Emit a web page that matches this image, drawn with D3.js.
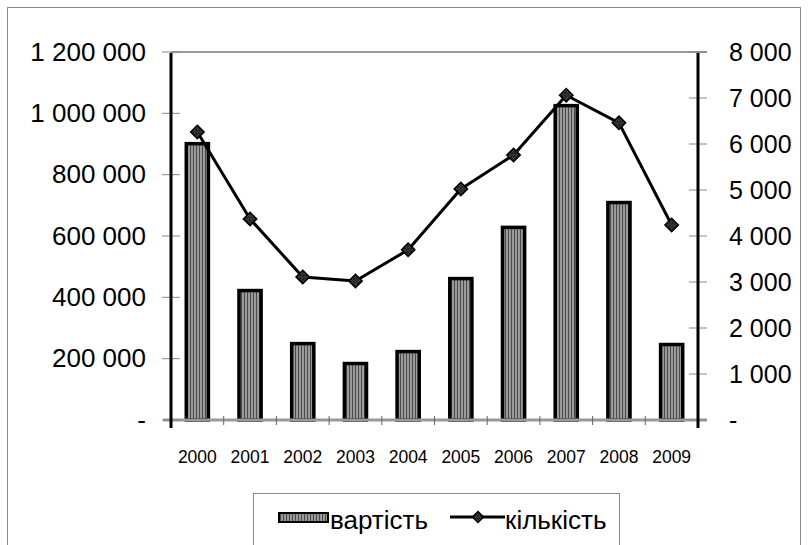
<!DOCTYPE html>
<html>
<head>
<meta charset="utf-8">
<script src="https://cdn.jsdelivr.net/npm/d3@7/dist/d3.min.js"></script>
<style>
  body { margin: 0; background: #fff; }
  svg { display: block; font-family: "Liberation Sans", Arial, sans-serif; }
</style>
</head>
<body>
<svg id="chart" width="809" height="545"></svg>
<script>
const years = ["2000","2001","2002","2003","2004","2005","2006","2007","2008","2009"];
const valueSeries = [906000, 427000, 254000, 189000, 228000, 466000, 633000, 1030000, 714000, 251000];
const countSeries = [6260, 4370, 3110, 3020, 3700, 5020, 5760, 7060, 6460, 4240];
const leftTicks = [0, 200000, 400000, 600000, 800000, 1000000, 1200000];
const rightTicks = [0, 1000, 2000, 3000, 4000, 5000, 6000, 7000, 8000];
const legendLabels = ["вартість", "кількість"];

const svg = d3.select("#chart");
const L = 171, R = 698, T = 52, B = 420;

// pattern
const defs = svg.append("defs");
const pat = defs.append("pattern").attr("id", "stripes").attr("patternUnits", "userSpaceOnUse")
  .attr("width", 3).attr("height", 3);
pat.append("rect").attr("width", 3).attr("height", 3).attr("fill", "#9a9a9a");
pat.append("rect").attr("x", 1).attr("width", 1).attr("height", 3).attr("fill", "#4a4a4a");
const pat2 = defs.append("pattern").attr("id", "dots").attr("patternUnits", "userSpaceOnUse")
  .attr("width", 2).attr("height", 2);
pat2.append("rect").attr("width", 2).attr("height", 2).attr("fill", "#1a1a1a");
pat2.append("rect").attr("width", 1).attr("height", 1).attr("fill", "#666");

// outer frame
svg.append("rect").attr("x", 7.5).attr("y", 7.5).attr("width", 793).attr("height", 560)
  .attr("fill", "none").attr("stroke", "#888").attr("stroke-width", 1);

const x = d3.scaleBand().domain(years).range([L, R]).padding(0);
const yL = d3.scaleLinear().domain([0, 1200000]).range([B, T]);
const yR = d3.scaleLinear().domain([0, 8000]).range([B, T]);

const fmt = d => d === 0 ? "-" : d3.format(",")(d).replace(/,/g, " ");

// top gridline
svg.append("line").attr("x1", L).attr("x2", R + 9).attr("y1", yL(1200000)).attr("y2", yL(1200000))
  .attr("stroke", "#999").attr("stroke-width", 2);

// bars
const bw = x.bandwidth() * 0.42;
svg.append("g").selectAll("rect").data(years).join("rect")
  .attr("x", d => x(d) + x.bandwidth() / 2 - bw / 2)
  .attr("y", (d, i) => yL(valueSeries[i]) + 1.5)
  .attr("width", bw)
  .attr("height", (d, i) => B - yL(valueSeries[i]) - 1.5)
  .attr("fill", "url(#stripes)")
  .attr("stroke", "#000").attr("stroke-width", 3.5);

// bottom baseline
svg.append("line").attr("x1", L - 8).attr("x2", R + 9).attr("y1", B).attr("y2", B)
  .attr("stroke", "#999").attr("stroke-width", 3);

// x ticks
svg.append("g").selectAll("line").data(years.slice(1)).join("line")
  .attr("x1", d => x(d)).attr("x2", d => x(d)).attr("y1", B - 4).attr("y2", B + 5)
  .attr("stroke", "#666").attr("stroke-width", 1);

// left axis
const gL = svg.append("g").attr("transform", `translate(${L},0)`)
  .call(d3.axisLeft(yL).tickValues(leftTicks).tickFormat(fmt).tickSize(0));
gL.select(".domain").remove();
gL.selectAll("text").attr("x", -25).attr("font-size", 26).attr("fill", "#000")
  .attr("font-family", "Liberation Sans, Arial, sans-serif");
svg.append("g").selectAll("line").data(leftTicks).join("line")
  .attr("x1", L - 9).attr("x2", L + 9).attr("y1", d => yL(d)).attr("y2", d => yL(d))
  .attr("stroke", "#888").attr("stroke-width", 1);
svg.append("line").attr("x1", L).attr("x2", L).attr("y1", T + 1).attr("y2", B + 8)
  .attr("stroke", "#000").attr("stroke-width", 3);

// right axis
const gR = svg.append("g").attr("transform", `translate(${R},0)`)
  .call(d3.axisRight(yR).tickValues(rightTicks).tickFormat(fmt).tickSize(0));
gR.select(".domain").remove();
gR.selectAll("text").attr("x", 31).attr("font-size", 25).attr("fill", "#000")
  .attr("font-family", "Liberation Sans, Arial, sans-serif");
svg.append("g").selectAll("line").data(rightTicks).join("line")
  .attr("x1", R - 9).attr("x2", R + 9).attr("y1", d => yR(d)).attr("y2", d => yR(d))
  .attr("stroke", "#888").attr("stroke-width", 1);
svg.append("line").attr("x1", R).attr("x2", R).attr("y1", T + 1).attr("y2", B + 8)
  .attr("stroke", "#000").attr("stroke-width", 3);

// x labels
svg.append("g").selectAll("text").data(years).join("text")
  .attr("x", d => x(d) + x.bandwidth() / 2).attr("y", 463)
  .attr("text-anchor", "middle").attr("font-size", 17.5).attr("fill", "#000")
  .text(d => d);

// line
const line = d3.line().x((d, i) => x(years[i]) + x.bandwidth() / 2).y(d => yR(d));
svg.append("path").datum(countSeries).attr("d", line)
  .attr("fill", "none").attr("stroke", "#000").attr("stroke-width", 3).attr("stroke-linejoin", "round");

const marker = d3.symbol(d3.symbolSquare, 90);
svg.append("g").selectAll("path").data(countSeries).join("path")
  .attr("d", marker)
  .attr("transform", (d, i) => `translate(${x(years[i]) + x.bandwidth() / 2},${yR(d)}) rotate(45)`)
  .attr("fill", "url(#dots)").attr("stroke", "#000").attr("stroke-width", 1.5);

// legend
svg.append("rect").attr("x", 253.5).attr("y", 493.5).attr("width", 366).attr("height", 80)
  .attr("fill", "#fff").attr("stroke", "#888").attr("stroke-width", 1);
svg.append("rect").attr("x", 279).attr("y", 513).attr("width", 49).attr("height", 9)
  .attr("fill", "url(#stripes)").attr("stroke", "#000").attr("stroke-width", 2);
svg.append("text").attr("x", 330).attr("y", 529).attr("font-size", 26).attr("fill", "#000")
  .text(legendLabels[0]);
svg.append("line").attr("x1", 450).attr("x2", 505).attr("y1", 517).attr("y2", 517)
  .attr("stroke", "#000").attr("stroke-width", 3);
svg.append("path").attr("d", d3.symbol(d3.symbolSquare, 60))
  .attr("transform", "translate(478,517) rotate(45)")
  .attr("fill", "url(#dots)").attr("stroke", "#000").attr("stroke-width", 1.5);
svg.append("text").attr("x", 505).attr("y", 529).attr("font-size", 26).attr("fill", "#000")
  .text(legendLabels[1]);
</script>
</body>
</html>
